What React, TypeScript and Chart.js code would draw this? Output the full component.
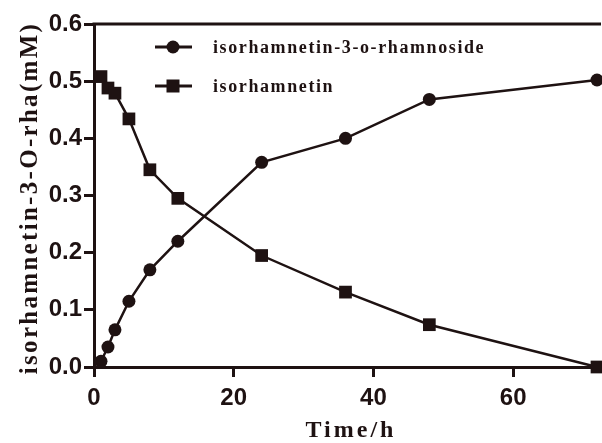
import React, { useEffect, useRef } from 'react';
import { Chart, registerables } from 'chart.js';

Chart.register(...registerables);

const timeH = [1, 2, 3, 5, 8, 12, 24, 36, 48, 72];
const rhamnoside = [0.01, 0.035, 0.065, 0.115, 0.17, 0.22, 0.358, 0.4, 0.468, 0.502];
const isorhamnetin = [0.508, 0.488, 0.479, 0.434, 0.345, 0.295, 0.195, 0.131, 0.074, 0.0];
const xTickValues = [0, 20, 40, 60];
const yTickValues = [0, 0.1, 0.2, 0.3, 0.4, 0.5, 0.6];
const seriesNames = ['isorhamnetin-3-o-rhamnoside', 'isorhamnetin'];
const xTitle = 'Time/h';
const yTitle = 'isorhamnetin-3-O-rha(mM)';

const INK = '#1e1212';
const W = 606;
const H = 443;

const decorPlugin = {
  id: 'decor',
  afterDraw(chart: any) {
    const ctx = chart.ctx as CanvasRenderingContext2D;
    const area = chart.chartArea;
    ctx.save();
    // top frame line
    ctx.strokeStyle = INK;
    ctx.lineWidth = 3;
    ctx.beginPath();
    ctx.moveTo(area.left - 1.5, area.top);
    ctx.lineTo(area.right + 4, area.top);
    ctx.stroke();

    ctx.fillStyle = INK;
    // y title
    ctx.save();
    ctx.translate(37, 198);
    ctx.rotate(-Math.PI / 2);
    ctx.font = 'bold 25px "Liberation Serif"';
    (ctx as any).letterSpacing = '2.3px';
    ctx.textAlign = 'center';
    ctx.textBaseline = 'alphabetic';
    ctx.fillText(yTitle, 0, 0);
    ctx.restore();

    // x title
    ctx.save();
    ctx.font = 'bold 24px "Liberation Serif"';
    (ctx as any).letterSpacing = '3px';
    ctx.textAlign = 'center';
    ctx.textBaseline = 'alphabetic';
    ctx.fillText(xTitle, 351, 437);
    ctx.restore();

    // legend
    const rows = [47, 86];
    chart.data.datasets.forEach((ds: any, i: number) => {
      const y = rows[i];
      ctx.strokeStyle = INK;
      ctx.lineWidth = 3;
      ctx.beginPath();
      ctx.moveTo(155, y);
      ctx.lineTo(192, y);
      ctx.stroke();
      ctx.fillStyle = INK;
      if (ds.pointStyle === 'rect') {
        ctx.fillRect(173 - 6.5, y - 6.5, 13, 13);
      } else {
        ctx.beginPath();
        ctx.arc(173, y, 6.5, 0, Math.PI * 2);
        ctx.fill();
      }
      ctx.save();
      ctx.font = 'bold 18px "Liberation Serif"';
      (ctx as any).letterSpacing = '1.6px';
      ctx.textAlign = 'left';
      ctx.textBaseline = 'middle';
      ctx.fillText(ds.label, 213, y + 1);
      ctx.restore();
    });
    ctx.restore();
  },
};

export default function App() {
  const ref = useRef<HTMLCanvasElement | null>(null);
  useEffect(() => {
    if (!ref.current) return;
    const chart = new Chart(ref.current, {
      type: 'line',
      data: {
        datasets: [
          {
            label: seriesNames[0],
            data: timeH.map((t, i) => ({ x: t, y: rhamnoside[i] })),
            borderColor: INK,
            backgroundColor: INK,
            borderWidth: 2.5,
            pointStyle: 'circle',
            pointRadius: 6.5,
            pointBorderWidth: 0,
            fill: false,
            clip: false as any,
          },
          {
            label: seriesNames[1],
            data: timeH.map((t, i) => ({ x: t, y: isorhamnetin[i] })),
            borderColor: INK,
            backgroundColor: INK,
            borderWidth: 2.5,
            pointStyle: 'rect',
            pointRadius: 9,
            pointBorderWidth: 0,
            fill: false,
            clip: false as any,
          },
        ],
      },
      options: {
        responsive: false,
        animation: false,
        layout: { padding: { left: 0, top: 24, right: 2, bottom: 0 } },
        plugins: {
          legend: { display: false },
          tooltip: { enabled: false },
          title: { display: false },
        },
        scales: {
          x: {
            type: 'linear',
            min: 0,
            max: 72,
            afterBuildTicks: (scale: any) => {
              scale.ticks = xTickValues.map((v) => ({ value: v }));
            },
            afterFit: (scale: any) => {
              scale.height = H - 367;
            },
            grid: {
              drawOnChartArea: false,
              drawTicks: true,
              tickLength: 10,
              tickWidth: 3,
              tickColor: INK,
            },
            border: { display: true, width: 3, color: INK },
            ticks: {
              color: INK,
              padding: 7,
              font: { family: '"Liberation Sans"', weight: 'bold', size: 24 },
              maxRotation: 0,
              callback: (v: any) => String(v),
            },
          },
          y: {
            type: 'linear',
            min: 0,
            max: 0.6,
            afterBuildTicks: (scale: any) => {
              scale.ticks = yTickValues.map((v) => ({ value: v }));
            },
            afterFit: (scale: any) => {
              scale.width = 94;
            },
            grid: {
              drawOnChartArea: false,
              drawTicks: true,
              tickLength: 10,
              tickWidth: 3,
              tickColor: INK,
            },
            border: { display: true, width: 3, color: INK },
            ticks: {
              color: INK,
              padding: 2,
              font: { family: '"Liberation Sans"', weight: 'bold', size: 24 },
              callback: (v: any) => Number(v).toFixed(1),
            },
          },
        },
      } as any,
      plugins: [decorPlugin],
    });
    return () => chart.destroy();
  }, []);
  return (
    <div style={{ position: 'absolute', left: 0, top: 0, width: 602, height: H, overflow: 'hidden', background: '#fff' }}>
      <canvas ref={ref} width={W} height={H} style={{ width: W, height: H, display: 'block' }} />
    </div>
  );
}
